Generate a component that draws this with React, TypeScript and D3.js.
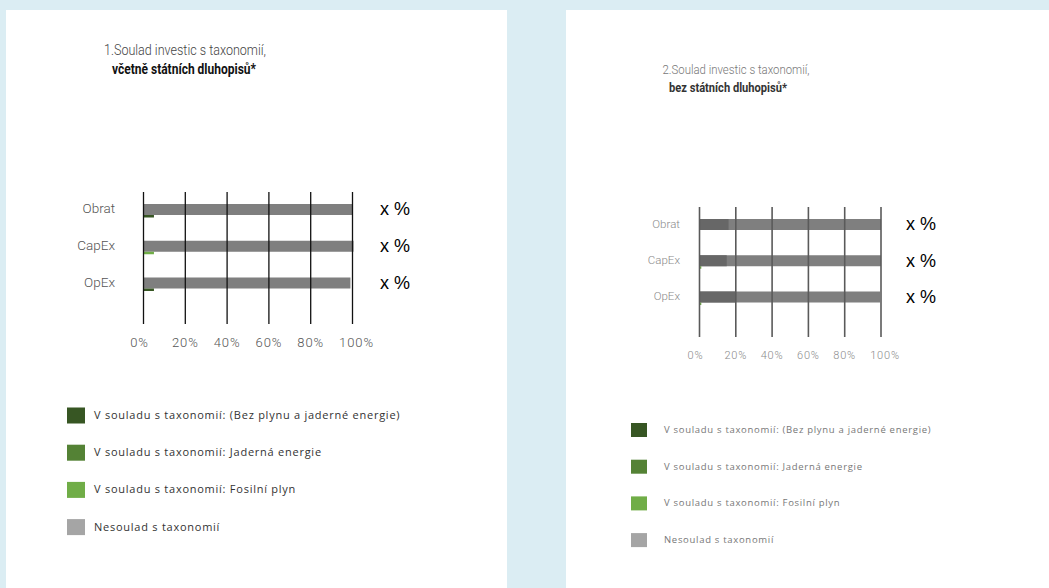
import React, { useEffect, useRef } from 'react';
import * as d3 from 'd3';

// categories and axis ticks
const categories = ['Obrat', 'CapEx', 'OpEx'];
const tickValues = [0, 0.2, 0.4, 0.6, 0.8, 1];
const tickLabels = ['0%', '20%', '40%', '60%', '80%', '100%'];
const valueLabels = ['x %', 'x %', 'x %'];

// legend
const legendLabels = [
  'V souladu s taxonomií: (Bez plynu a jaderné energie)',
  'V souladu s taxonomií: Jaderná energie',
  'V souladu s taxonomií: Fosilní plyn',
  'Nesoulad s taxonomií',
];
const legendColors = ['#375623', '#548235', '#70ad47', '#a5a5a5'];

// chart 1 - incl. government bonds
const leftAligned = [0.05, 0, 0.05];
const leftNuclear = [0, 0, 0];
const leftGas = [0, 0.05, 0];
const leftNonAligned = [1, 1.005, 0.99];

// chart 2 - excl. government bonds
const rightAligned = [0, 0, 0];
const rightNuclear = [0, 0, 0];
const rightGas = [0, 0.01, 0.01];
const rightNonAligned = [1, 1, 0.995];
const rightOverlap = [0.16, 0.15, 0.2];

interface Panel {
  title: [string, string];
  aligned: number[];
  nuclear: number[];
  gas: number[];
  nonAligned: number[];
  overlap?: number[];
  x0: number; x1: number;
  y0: number; y1: number;
  gridTop: number; gridBottom: number;
  tickY: number;
  titleX: [number, number]; titleY: number; titleSize: number; titleW: [number, number];
  titleColors: [string, string];
  labelX: number; valueX: number; valueSize: number;
  legendX: number; legendY: number; legendStep: number; legendBox: number;
  legendSize: number; legendSpacing: number; legendGap: number;
  catSize: number; tickSize: number; tickSpacing: number;
  gridColor: string; gridWidth: number;
  textColor: string; legendText: string;
}

const panels: Panel[] = [
  {
    title: ['1.Soulad investic s taxonomií,', 'včetně státních dluhopisů*'],
    aligned: leftAligned, nuclear: leftNuclear, gas: leftGas, nonAligned: leftNonAligned,
    x0: 143.5, x1: 352.5, y0: 209.5, y1: 283, gridTop: 192, gridBottom: 324, tickY: 344,
    titleX: [185, 184], titleY: 55, titleSize: 15, titleW: [162, 144],
    titleColors: ['#444', '#111'],
    labelX: 115, valueX: 380, valueSize: 18,
    legendX: 67, legendY: 416, legendStep: 37.2, legendBox: 17,
    legendSize: 11, legendSpacing: 0.75, legendGap: 10,
    catSize: 13.5, tickSize: 13, tickSpacing: 0.9,
    gridColor: '#111', gridWidth: 1.3,
    textColor: '#555', legendText: '#333',
  },
  {
    title: ['2.Soulad investic s taxonomií,', 'bez státních dluhopisů*'],
    aligned: rightAligned, nuclear: rightNuclear, gas: rightGas, nonAligned: rightNonAligned,
    overlap: rightOverlap,
    x0: 699.5, x1: 881, y0: 224.5, y1: 297, gridTop: 207, gridBottom: 337, tickY: 356,
    titleX: [736, 728], titleY: 74, titleSize: 13.5, titleW: [147, 118],
    titleColors: ['#777', '#333'],
    labelX: 680, valueX: 906, valueSize: 18,
    legendX: 631, legendY: 430.5, legendStep: 36.7, legendBox: 15,
    legendSize: 9.5, legendSpacing: 0.7, legendGap: 18,
    catSize: 11.5, tickSize: 11, tickSpacing: 0.8,
    gridColor: '#5a5a5a', gridWidth: 1.6,
    textColor: '#8a8a8a', legendText: '#777',
  },
];

const App: React.FC = () => {
  const svgRef = useRef<SVGSVGElement>(null);

  useEffect(() => {
    if (!svgRef.current) return;
    const svg = d3.select(svgRef.current);
    svg.selectAll('*').remove();

    // background and white cards
    svg.append('rect').attr('width', 1049).attr('height', 588).attr('fill', '#dbedf3');
    svg.append('rect').attr('x', 6).attr('y', 10).attr('width', 501).attr('height', 578).attr('fill', '#fff');
    svg.append('rect').attr('x', 566).attr('y', 10).attr('width', 483).attr('height', 578).attr('fill', '#fff');

    const condensed = "'Roboto', 'DejaVu Sans', sans-serif";

    panels.forEach(p => {
      const g = svg.append('g');
      const x = d3.scaleLinear().domain([0, 1]).range([p.x0, p.x1]);
      const y = d3.scalePoint<string>().domain(categories).range([p.y0, p.y1]);
      const barH = 11;

      // title
      p.title.forEach((t, i) => {
        g.append('text')
          .attr('x', p.titleX[i])
          .attr('y', p.titleY + i * (p.titleSize + 4))
          .attr('text-anchor', 'middle')
          .attr('font-family', condensed)
          .attr('font-size', p.titleSize)
          .attr('font-weight', i === 0 ? 300 : 700)
          .attr('fill', p.titleColors[i])
          .attr('textLength', p.titleW[i])
          .attr('lengthAdjust', 'spacingAndGlyphs')
          .text(t);
      });

      // green strips peeking out under the gray bars
      const greens = d3.stack<number>()
        .keys(['0', '1', '2'])
        .value((i, k) => [p.aligned, p.nuclear, p.gas][+k][i])(d3.range(categories.length));
      const greenColors = legendColors.slice(0, 3);

      // gray (non-aligned) bars
      g.selectAll('rect.non')
        .data(categories)
        .enter()
        .append('rect')
        .attr('class', 'non')
        .attr('x', x(0))
        .attr('y', d => (y(d) || 0) - barH / 2)
        .attr('width', (d, i) => x(p.nonAligned[i]) - x(0))
        .attr('height', barH)
        .attr('fill', '#7f7f7f');

      if (p.overlap) {
        g.selectAll('rect.ov')
          .data(categories)
          .enter()
          .append('rect')
          .attr('x', x(0))
          .attr('y', d => (y(d) || 0) - barH / 2)
          .attr('width', (d, i) => x(p.overlap![i]) - x(0))
          .attr('height', barH)
          .attr('fill', '#676767');
      }

      greens.forEach((layer, li) => {
        g.selectAll(`rect.green${li}`)
          .data(layer)
          .enter()
          .append('rect')
          .attr('x', d => x(d[0]))
          .attr('y', (d, i) => (y(categories[i]) || 0) + barH / 2)
          .attr('width', d => Math.max(0, x(d[1]) - x(d[0])))
          .attr('height', 2.5)
          .attr('fill', greenColors[li]);
      });

      // vertical grid lines
      g.selectAll('line.grid')
        .data(tickValues)
        .enter()
        .append('line')
        .attr('x1', d => x(d))
        .attr('x2', d => x(d))
        .attr('y1', p.gridTop)
        .attr('y2', p.gridBottom)
        .attr('stroke', p.gridColor)
        .attr('stroke-width', p.gridWidth);

      // tick labels
      g.selectAll('text.tick')
        .data(tickValues)
        .enter()
        .append('text')
        .attr('x', d => x(d) + (d === 0 ? -4 : d === 1 ? 4 : 0))
        .attr('y', p.tickY)
        .attr('text-anchor', 'middle')
        .attr('dominant-baseline', 'middle')
        .attr('font-family', condensed)
        .attr('font-weight', 300)
        .attr('font-size', p.tickSize)
        .attr('letter-spacing', p.tickSpacing)
        .attr('fill', p.textColor)
        .text((d, i) => tickLabels[i]);

      // category labels
      g.selectAll('text.cat')
        .data(categories)
        .enter()
        .append('text')
        .attr('x', p.labelX)
        .attr('y', d => y(d) || 0)
        .attr('text-anchor', 'end')
        .attr('dominant-baseline', 'middle')
        .attr('font-family', condensed)
        .attr('font-weight', 300)
        .attr('font-size', p.catSize)
        .attr('fill', p.textColor)
        .text(d => d);

      // "x %" placeholders
      g.selectAll('text.val')
        .data(categories)
        .enter()
        .append('text')
        .attr('x', p.valueX)
        .attr('y', d => (y(d) || 0) + 1)
        .attr('dominant-baseline', 'middle')
        .attr('font-family', "'Liberation Sans', Arial, sans-serif")
        .attr('font-size', p.valueSize)
        .attr('fill', '#000')
        .text((d, i) => valueLabels[i]);

      // legend
      const lg = g.selectAll('g.leg')
        .data(legendLabels)
        .enter()
        .append('g')
        .attr('transform', (d, i) => `translate(${p.legendX},${p.legendY + i * p.legendStep})`);
      lg.append('rect')
        .attr('y', -p.legendBox / 2)
        .attr('width', p.legendBox + 1)
        .attr('height', p.legendBox - 1)
        .attr('fill', (d, i) => legendColors[i]);
      lg.append('text')
        .attr('x', p.legendBox + p.legendGap)
        .attr('dominant-baseline', 'middle')
        .attr('font-family', "'Open Sans', 'Noto Sans', sans-serif")
        .attr('font-size', p.legendSize)
        .attr('letter-spacing', p.legendSpacing)
        .attr('fill', p.legendText)
        .text(d => d);
    });
  }, []);

  return (
    <svg
      ref={svgRef}
      width={1049}
      height={588}
      style={{ position: 'absolute', left: 0, top: 0, display: 'block' }}
    />
  );
};

export default App;
